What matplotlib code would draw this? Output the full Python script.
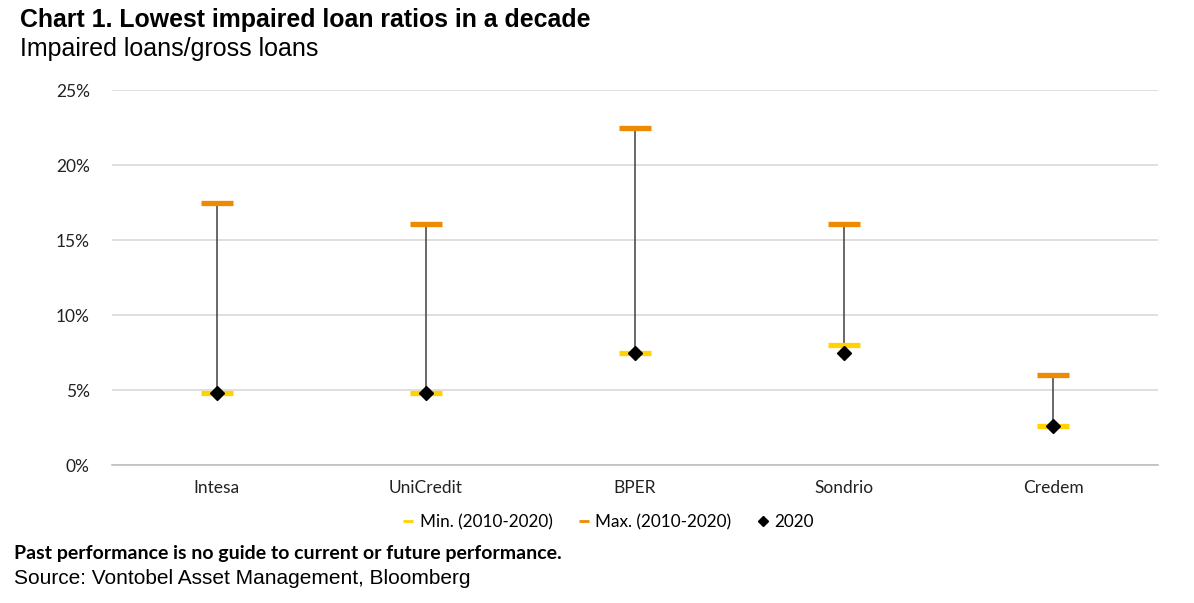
import matplotlib
matplotlib.use("Agg")
import matplotlib.pyplot as plt
from matplotlib.lines import Line2D
from matplotlib.ticker import FuncFormatter

banks = ["Intesa", "UniCredit", "BPER", "Sondrio", "Credem"]
min_vals = [4.8, 4.8, 7.5, 8.0, 2.6]
max_vals = [17.5, 16.1, 22.5, 16.1, 6.0]
y2020 = [4.8, 4.8, 7.5, 7.5, 2.6]
yticks = [0, 5, 10, 15, 20, 25]

C_MIN = "#FFD200"
C_MAX = "#EE8A00"
BODY = ["Lato", "DejaVu Sans"]
HEAD = ["Liberation Sans", "DejaVu Sans"]

W, H = 1194, 603
fig = plt.figure(figsize=(W / 100, H / 100), dpi=100)
ax = fig.add_axes([112 / W, 1 - 465 / H, (1158 - 112) / W, (465 - 90) / H])

x = list(range(len(banks)))
ax.vlines(x, min_vals, max_vals, color="#404040", lw=1.1, zorder=2)
ax.plot(x, min_vals, ls="none", marker="_", ms=22.5, mew=3.8, color=C_MIN, zorder=3)
ax.plot(x, max_vals, ls="none", marker="_", ms=22.5, mew=3.8, color=C_MAX, zorder=3)
ax.plot(x, y2020, ls="none", marker="D", ms=7.0, color="black", zorder=4)

ax.set_xlim(-0.5, len(banks) - 0.5)
ax.set_ylim(0, 25)
ax.set_yticks(yticks)
ax.yaxis.set_major_formatter(FuncFormatter(lambda v, p: f"{v:.0f}%"))
ax.set_xticks(x)
ax.set_xticklabels(banks)
ax.grid(axis="y", color="#D9D9D9", lw=1.2)
ax.set_axisbelow(True)
for s in ["top", "right", "left"]:
    ax.spines[s].set_visible(False)
ax.spines["bottom"].set_color("#BFBFBF")
ax.spines["bottom"].set_linewidth(1.2)
ax.tick_params(axis="both", length=0, labelsize=12.5, labelcolor="#222222")
ax.tick_params(axis="y", pad=16)
ax.tick_params(axis="x", pad=11)
for lab in ax.get_xticklabels() + ax.get_yticklabels():
    lab.set_family(BODY)

handles = [
    Line2D([], [], ls="none", marker="_", ms=7, mew=2, color=C_MIN),
    Line2D([], [], ls="none", marker="_", ms=7, mew=2, color=C_MAX),
    Line2D([], [], ls="none", marker="D", ms=5, color="black"),
]
fig.legend(handles, ["Min. (2010-2020)", "Max. (2010-2020)", "2020"],
           loc="center", bbox_to_anchor=(608 / W, 1 - 522 / H), ncol=3,
           frameon=False, prop={"family": BODY, "size": 12.3},
           handlelength=0.7, handletextpad=0.3, columnspacing=1.5)

fig.text(20 / W, 1 - 20 / H, "Chart 1. Lowest impaired loan ratios in a decade",
         family=HEAD, weight="bold", fontsize=17.9, va="center", ha="left")
fig.text(20 / W, 1 - 49 / H, "Impaired loans/gross loans",
         family=HEAD, fontsize=18, va="center", ha="left")
fig.text(14 / W, 1 - 553 / H, "Past performance is no guide to current or future performance.",
         family=BODY, weight="bold", fontsize=14, va="center", ha="left")
fig.text(14 / W, 1 - 578 / H, "Source: Vontobel Asset Management, Bloomberg",
         family=HEAD, fontsize=15, va="center", ha="left")

fig.savefig("out.png", dpi=100)
